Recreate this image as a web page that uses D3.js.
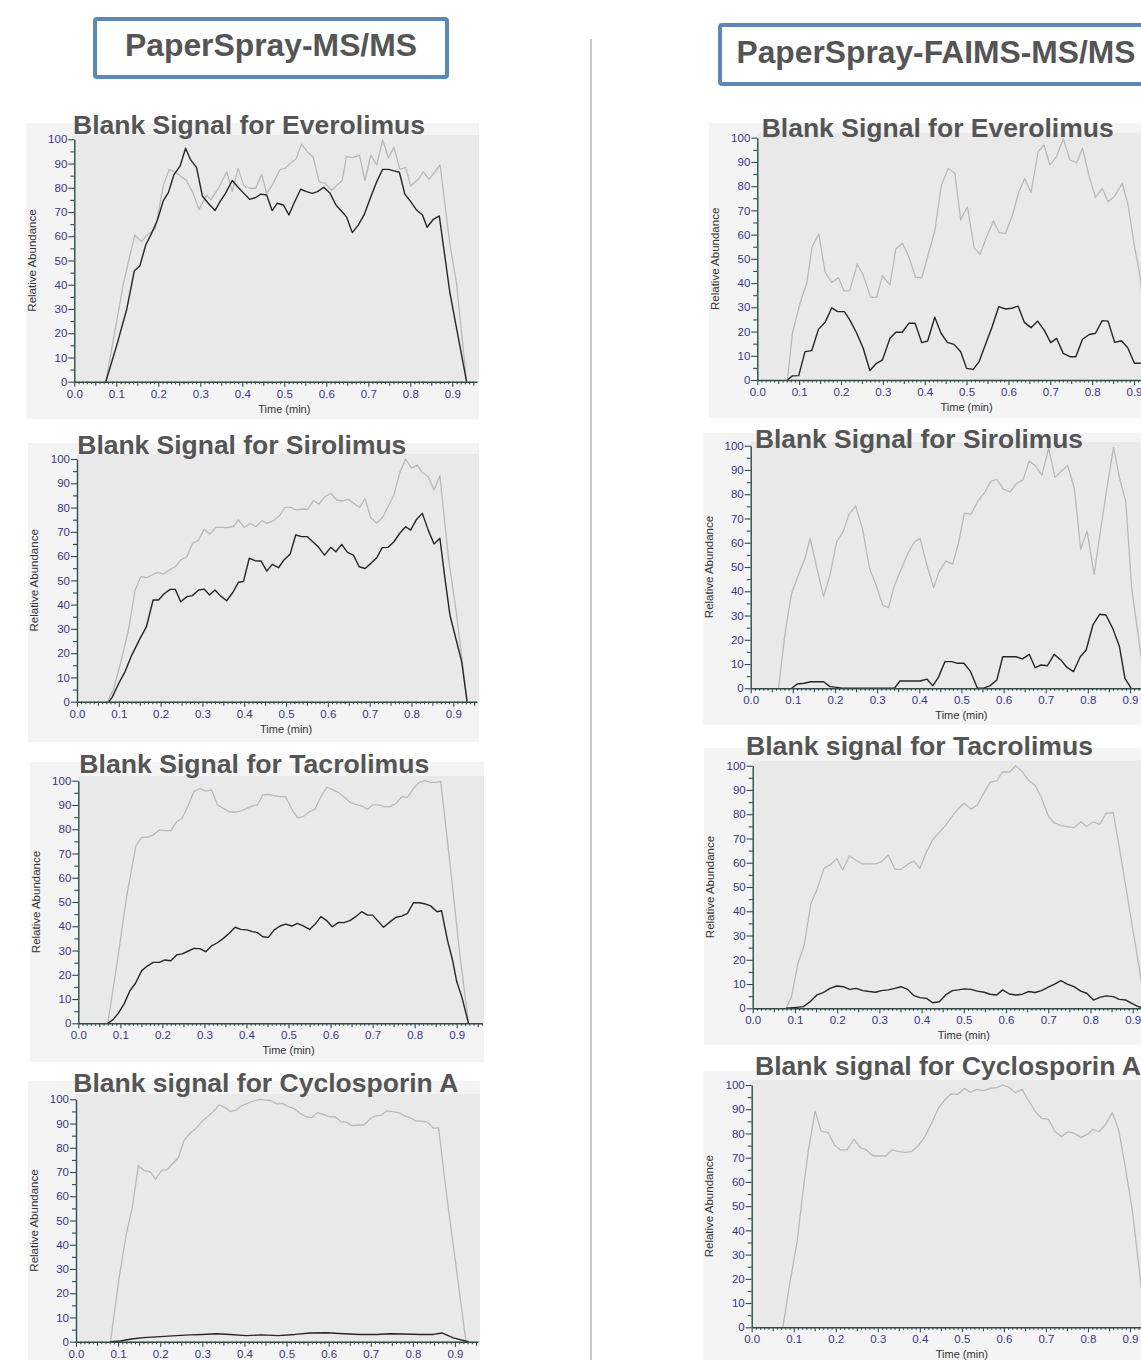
<!DOCTYPE html>
<html>
<head>
<meta charset="utf-8">
<script src="https://cdn.jsdelivr.net/npm/d3@7"></script>
<style>
  html, body { margin: 0; padding: 0; background: #ffffff; }
  svg { display: block; font-family: "Liberation Sans", Arial, sans-serif; }
</style>
</head>
<body>
<svg id="fig" width="1141" height="1360"></svg>
<script>
// ---- Chromatogram traces: [time (min), relative abundance (%)] ----
// PaperSpray-MS/MS
const everoMsGray = [[0.075,0],[0.117,40.6],[0.144,60.5],[0.160,57.8],[0.176,61],[0.193,63],[0.212,81],[0.226,87.6],[0.244,86],[0.267,83],[0.283,77.7],[0.297,71],[0.315,77],[0.325,75],[0.344,80],[0.363,86.6],[0.376,78.4],[0.390,88],[0.404,80.7],[0.418,79.8],[0.432,79.8],[0.446,85.6],[0.458,77.7],[0.471,81],[0.490,87.6],[0.502,88],[0.517,90.4],[0.528,92],[0.541,98],[0.554,95],[0.569,92.6],[0.583,82.5],[0.597,81.8],[0.613,79],[0.625,81],[0.638,83],[0.648,93],[0.663,92.4],[0.679,93.5],[0.692,83],[0.706,93.5],[0.720,89.4],[0.734,99.7],[0.748,92.4],[0.761,96.7],[0.775,87.6],[0.789,88.4],[0.801,80.7],[0.819,83.5],[0.831,86.6],[0.845,83.5],[0.871,89.4],[0.894,57],[0.910,40.6],[0.934,0]];
const everoMsBlack = [[0.075,0],[0.101,15],[0.125,30],[0.143,45.8],[0.156,47.7],[0.170,56.4],[0.184,61.2],[0.198,66.7],[0.212,74.7],[0.224,78],[0.237,85.3],[0.252,89],[0.265,96.3],[0.277,91.5],[0.291,88.4],[0.305,76.6],[0.319,73.6],[0.335,70.6],[0.347,74.3],[0.360,77.7],[0.376,83],[0.390,80.2],[0.402,78],[0.418,75.2],[0.432,76],[0.444,77.4],[0.458,77],[0.471,70.6],[0.483,73.6],[0.498,72.9],[0.511,68.8],[0.523,73.6],[0.539,79.4],[0.553,78.4],[0.567,77.7],[0.579,78.4],[0.594,80.2],[0.609,77.7],[0.623,72.9],[0.637,70.2],[0.648,68],[0.662,61.5],[0.676,64.6],[0.690,68.8],[0.706,76.3],[0.720,82.5],[0.734,87.6],[0.748,87.6],[0.761,87],[0.774,86.4],[0.787,77.4],[0.801,74.3],[0.815,70.8],[0.829,68.8],[0.840,63.7],[0.855,67],[0.869,68.4],[0.894,37],[0.934,0]];

const siroMsGray = [[0.073,0],[0.088,5.5],[0.104,15.8],[0.123,29.5],[0.139,46],[0.153,51.5],[0.167,51.1],[0.179,52.2],[0.193,53.3],[0.207,52.6],[0.221,54.3],[0.235,55.6],[0.248,58.4],[0.263,59.8],[0.276,65.2],[0.291,66.6],[0.304,71],[0.318,69.1],[0.332,71.8],[0.346,71.8],[0.360,71.7],[0.374,72.1],[0.386,74.9],[0.400,71.8],[0.414,73.5],[0.428,72.1],[0.442,74.6],[0.455,73.5],[0.470,74.6],[0.484,76.6],[0.498,80.1],[0.511,80.1],[0.525,79],[0.540,79.4],[0.552,79.3],[0.565,82.8],[0.579,81.5],[0.593,84.5],[0.607,85.9],[0.621,83.1],[0.635,82.7],[0.649,83.4],[0.662,81.7],[0.676,80.1],[0.689,83.8],[0.702,76],[0.717,73.5],[0.731,76],[0.744,80.4],[0.758,85.2],[0.772,94.4],[0.786,100],[0.800,96.2],[0.814,97.5],[0.826,94.4],[0.840,92.7],[0.854,87.2],[0.868,93.1],[0.888,59.8],[0.908,35.7],[0.933,0]];
const siroMsBlack = [[0.076,0],[0.084,1.8],[0.100,7.6],[0.115,12.4],[0.131,19.2],[0.151,26.1],[0.166,30.9],[0.182,41.9],[0.195,41.9],[0.209,44.6],[0.223,46.3],[0.235,46.3],[0.248,41.2],[0.263,43.3],[0.276,43.7],[0.291,46],[0.304,46.4],[0.317,44],[0.330,46],[0.344,43.5],[0.358,41.6],[0.373,45.1],[0.386,49.2],[0.398,49.5],[0.412,59.1],[0.426,58.1],[0.440,58],[0.454,53.8],[0.467,56.6],[0.482,55.2],[0.495,58.4],[0.510,60.9],[0.523,68.7],[0.537,68],[0.551,68],[0.564,65.9],[0.578,63.6],[0.592,60.4],[0.607,63.6],[0.619,61.8],[0.633,64.8],[0.647,61.5],[0.661,60.4],[0.675,55.6],[0.689,54.9],[0.703,57],[0.717,59.3],[0.730,63.5],[0.744,63.6],[0.758,65.9],[0.772,69.4],[0.786,72.1],[0.798,70.7],[0.812,75.1],[0.826,77.6],[0.840,70.7],[0.854,65],[0.868,67.3],[0.880,50.8],[0.892,35.7],[0.908,24.7],[0.920,16.5],[0.933,0]];

const tacroMsGray = [[0.070,0],[0.091,23.4],[0.115,52.2],[0.137,73.2],[0.151,76.6],[0.164,76.6],[0.178,77.6],[0.193,79.7],[0.206,79.4],[0.220,79.4],[0.234,83.1],[0.247,84.5],[0.262,90],[0.275,95.5],[0.289,96.8],[0.303,95.7],[0.317,96.2],[0.331,90],[0.345,88.6],[0.359,87.2],[0.373,87],[0.386,87.5],[0.401,88.6],[0.414,89.6],[0.426,90],[0.439,94.1],[0.452,94.4],[0.466,93.8],[0.480,93.4],[0.493,93.4],[0.508,88.2],[0.521,84.8],[0.535,85.2],[0.550,87.2],[0.563,88.3],[0.577,93.4],[0.591,97.3],[0.604,96.4],[0.619,95.1],[0.632,93.4],[0.646,91.1],[0.660,90.2],[0.674,89.6],[0.688,88.2],[0.700,90],[0.714,90],[0.728,89.3],[0.742,89.3],[0.756,90.7],[0.769,93.4],[0.783,93.1],[0.797,96.8],[0.811,99.3],[0.825,100],[0.838,99.3],[0.853,99.3],[0.862,99.6],[0.884,65.9],[0.908,27.5],[0.928,0]];
const tacroMsBlack = [[0.070,0],[0.082,1.4],[0.095,4.1],[0.109,8],[0.123,13.5],[0.136,16.5],[0.151,21.7],[0.164,23.6],[0.178,25.1],[0.193,25.1],[0.206,26.1],[0.220,25.8],[0.234,28.2],[0.247,28.6],[0.262,29.8],[0.275,30.9],[0.289,30.8],[0.303,29.5],[0.317,31.9],[0.331,33.2],[0.345,35],[0.359,37.1],[0.373,39.6],[0.386,38.7],[0.401,38.5],[0.414,37.8],[0.426,37.4],[0.439,35.7],[0.452,35.4],[0.466,38.5],[0.480,40.1],[0.493,40.9],[0.508,40.1],[0.521,41.2],[0.535,40.2],[0.550,38.7],[0.563,40.8],[0.577,44],[0.591,42.3],[0.604,39.8],[0.619,41.6],[0.632,41.5],[0.646,42.3],[0.660,44],[0.674,46],[0.688,44.6],[0.700,44.6],[0.714,41.9],[0.726,39.6],[0.742,41.9],[0.756,43.7],[0.769,44.2],[0.783,45.3],[0.797,49.7],[0.811,49.7],[0.825,49.2],[0.838,48.4],[0.853,46],[0.864,46.4],[0.878,34.3],[0.890,26.1],[0.900,17.2],[0.912,11],[0.928,0]];

const cycloMsGray = [[0.082,0],[0.101,24.8],[0.119,44],[0.134,55.7],[0.148,72.6],[0.162,70.6],[0.176,70.2],[0.189,67.1],[0.204,70.8],[0.215,70.8],[0.230,73.6],[0.243,75.9],[0.257,83.2],[0.271,86],[0.285,88],[0.299,90.8],[0.312,92.8],[0.326,94.9],[0.340,97.7],[0.354,96.6],[0.367,94.9],[0.380,95.6],[0.394,97.4],[0.407,98.3],[0.421,99.3],[0.436,100],[0.449,99.7],[0.462,99.5],[0.477,98.1],[0.490,98.3],[0.504,97],[0.518,96.2],[0.532,94.2],[0.546,92.8],[0.560,92.4],[0.573,94.5],[0.588,93.8],[0.601,92.8],[0.615,92.8],[0.629,90.8],[0.643,90.5],[0.656,89.1],[0.671,89.4],[0.684,89.4],[0.698,91.9],[0.710,93.1],[0.725,93.5],[0.738,95.2],[0.752,94.9],[0.766,94.5],[0.779,93.3],[0.793,92.4],[0.807,91],[0.821,91],[0.835,90.5],[0.849,88],[0.861,88.3],[0.880,60.5],[0.900,34.4],[0.926,0]];
const cycloMsBlack = [[0.082,0],[0.105,0.3],[0.132,1.1],[0.160,1.7],[0.200,2.1],[0.239,2.5],[0.271,2.8],[0.300,3],[0.334,3.3],[0.366,3],[0.405,2.5],[0.440,2.8],[0.480,2.5],[0.520,3],[0.556,3.6],[0.595,3.7],[0.635,3.3],[0.675,3],[0.714,3],[0.746,3.3],[0.778,3.2],[0.817,3],[0.849,3],[0.869,3.6],[0.896,1.6],[0.932,0]];

// PaperSpray-FAIMS-MS/MS
const everoFaimsGray = [[0.072,0],[0.084,19.3],[0.102,31.6],[0.118,39.9],[0.131,55],[0.147,60.2],[0.162,44.4],[0.178,40.3],[0.194,42.2],[0.207,36.7],[0.221,36.9],[0.239,47.9],[0.253,43.3],[0.271,34.1],[0.285,34.1],[0.299,43.1],[0.317,39.2],[0.331,54.1],[0.347,56.4],[0.362,50.9],[0.378,42.4],[0.393,42.2],[0.408,51.6],[0.424,61.6],[0.440,80.5],[0.456,87.3],[0.472,85.3],[0.486,66],[0.502,71.5],[0.518,54.6],[0.532,51.9],[0.548,59.1],[0.564,65.6],[0.578,60.8],[0.593,60.5],[0.609,67.7],[0.625,77.7],[0.639,83.2],[0.654,77.4],[0.671,94.2],[0.685,97],[0.699,88.7],[0.715,92.2],[0.731,99.5],[0.747,90.8],[0.763,89.7],[0.777,95.6],[0.793,83.9],[0.808,75.4],[0.824,79.1],[0.838,73.6],[0.854,75.9],[0.872,81.2],[0.886,72.2],[0.900,56.4],[0.916,41.3],[0.932,0]];
const everoFaimsBlack = [[0.072,0],[0.084,1.7],[0.099,1.8],[0.114,11.7],[0.130,12.1],[0.146,20.9],[0.162,23.8],[0.178,29.8],[0.192,28.2],[0.208,28.2],[0.221,24.8],[0.237,19.5],[0.253,13.1],[0.269,3.9],[0.285,6.9],[0.299,8.3],[0.317,17.2],[0.331,19.7],[0.346,19.7],[0.362,23.4],[0.377,23.4],[0.393,15.4],[0.407,16.1],[0.424,25.9],[0.439,19.3],[0.454,15.5],[0.470,14.7],[0.486,11.7],[0.500,4.8],[0.516,4.4],[0.530,7.6],[0.546,15.1],[0.561,22],[0.577,30.3],[0.593,29.3],[0.608,29.6],[0.623,30.5],[0.638,23.8],[0.654,21.6],[0.670,24.3],[0.686,20.4],[0.701,15.4],[0.715,17.2],[0.731,11],[0.747,9.6],[0.761,9.6],[0.777,16.8],[0.793,18.8],[0.808,19.3],[0.824,24.5],[0.838,24.3],[0.854,15.5],[0.870,16.2],[0.885,13.3],[0.901,6.9],[0.916,6.9]];

const siroFaimsGray = [[0.066,0],[0.082,23.4],[0.097,39.1],[0.113,46.7],[0.129,53.6],[0.141,61.8],[0.157,49.5],[0.173,37.8],[0.188,46.7],[0.204,60.4],[0.220,64.8],[0.233,71.7],[0.249,75.1],[0.265,65.9],[0.282,49.5],[0.298,42.3],[0.313,34.3],[0.327,33.2],[0.341,42.3],[0.358,49.5],[0.373,55.6],[0.388,60.2],[0.402,61.8],[0.418,50.8],[0.434,41.5],[0.447,48.1],[0.463,52.5],[0.479,51.1],[0.493,59.8],[0.507,72.1],[0.523,71.8],[0.539,77.2],[0.554,80.4],[0.570,85.4],[0.584,86.1],[0.600,82],[0.616,81],[0.631,84.5],[0.646,85.9],[0.661,93.7],[0.676,91.6],[0.691,87.9],[0.707,98.9],[0.722,87],[0.738,89.7],[0.752,91.8],[0.768,82.4],[0.783,57.3],[0.798,64.8],[0.815,47],[0.829,63.9],[0.845,82.4],[0.861,99.3],[0.875,86.8],[0.890,76.9],[0.904,41.2],[0.926,13.7],[0.935,0]];
const siroFaimsBlack = [[0.097,0],[0.111,1.8],[0.127,2.1],[0.142,2.7],[0.157,2.7],[0.173,2.7],[0.188,0.7],[0.204,0.4],[0.216,0],[0.341,0],[0.354,3],[0.370,3],[0.388,3],[0.402,3],[0.418,3.8],[0.432,1],[0.445,4.4],[0.461,11],[0.477,11],[0.491,10.3],[0.506,10.3],[0.521,7.1],[0.538,0],[0.552,0],[0.568,1.1],[0.584,3.4],[0.598,13],[0.614,13],[0.629,13],[0.645,12.1],[0.661,14],[0.675,8.5],[0.689,9.6],[0.704,9.3],[0.720,14],[0.736,11.7],[0.750,8.7],[0.766,6.9],[0.782,13],[0.796,15.8],[0.812,26.1],[0.828,30.5],[0.843,30.2],[0.859,24.7],[0.875,17.2],[0.888,4.1],[0.903,0]];

const tacroFaimsGray = [[0.079,0],[0.092,4.8],[0.107,18.5],[0.122,26.1],[0.138,43.3],[0.152,48.8],[0.169,57.7],[0.185,59.3],[0.199,61.8],[0.213,57],[0.229,62.8],[0.244,61.1],[0.260,59.5],[0.276,59.5],[0.291,59.5],[0.305,60.4],[0.321,63.2],[0.337,57.3],[0.351,57.3],[0.367,59.3],[0.382,60.7],[0.396,57.7],[0.410,63.9],[0.426,69.4],[0.442,72.5],[0.457,75.5],[0.473,79.3],[0.487,82.4],[0.501,84.5],[0.517,82.1],[0.532,83.8],[0.548,88.9],[0.562,93.1],[0.578,93.7],[0.592,97.5],[0.608,97.3],[0.623,99.9],[0.639,97.5],[0.653,94.1],[0.669,91.8],[0.684,86.8],[0.700,79.3],[0.714,76.5],[0.730,75.3],[0.745,74.9],[0.761,74.5],[0.777,76.9],[0.791,74.9],[0.807,76.9],[0.822,75.8],[0.837,80.4],[0.854,80.6],[0.872,62.5],[0.890,43.3],[0.920,11.7],[0.930,0]];
const tacroFaimsBlack = [[0.079,0],[0.104,0.4],[0.120,0.7],[0.136,2.7],[0.152,5.5],[0.167,6.5],[0.183,8.2],[0.199,9.2],[0.215,8.9],[0.229,7.8],[0.245,8.2],[0.261,7.3],[0.276,6.9],[0.291,6.6],[0.305,7.3],[0.321,7.6],[0.337,8.2],[0.351,8.9],[0.367,7.8],[0.382,5.2],[0.396,4.4],[0.412,4.1],[0.426,2.3],[0.442,2.7],[0.457,5.5],[0.473,7.3],[0.487,7.6],[0.501,8],[0.517,7.8],[0.532,7.1],[0.548,6.6],[0.562,5.8],[0.578,5.5],[0.592,7.6],[0.608,5.9],[0.623,5.5],[0.639,5.8],[0.653,6.9],[0.669,6.5],[0.684,7.3],[0.700,8.7],[0.714,9.9],[0.730,11.4],[0.745,10],[0.761,8.9],[0.777,7.1],[0.791,6.2],[0.807,3.4],[0.822,4.5],[0.837,5.1],[0.854,4.8],[0.868,3.7],[0.884,3.4],[0.900,1.8],[0.913,0.7],[0.920,0.4]];

const cycloFaimsGray = [[0.074,0],[0.090,17.5],[0.108,35.4],[0.122,56],[0.135,73.2],[0.151,89.3],[0.165,81],[0.182,80.3],[0.197,75.2],[0.211,73.2],[0.227,73.2],[0.243,77.6],[0.259,74.1],[0.273,73.2],[0.289,70.7],[0.305,70.7],[0.319,70.7],[0.334,73.2],[0.350,72.5],[0.365,72.2],[0.380,72.5],[0.396,74.8],[0.412,78.7],[0.428,84.2],[0.444,90.4],[0.459,93.8],[0.474,96.3],[0.490,96.1],[0.506,98.6],[0.520,97],[0.536,98.2],[0.552,97.7],[0.568,98.6],[0.584,98.9],[0.597,100],[0.613,99],[0.627,96.8],[0.643,98.2],[0.659,93.4],[0.675,89],[0.690,86.2],[0.706,85.8],[0.722,80.7],[0.737,78.7],[0.752,80.7],[0.767,80.1],[0.783,78.4],[0.799,79.6],[0.812,81.7],[0.826,80.7],[0.842,83.8],[0.858,88.6],[0.873,81.4],[0.888,67],[0.906,47.7],[0.930,12],[0.940,0]];
const cycloFaimsBlack = [];

// ---- Axis ticks ----
const yMajorTicks = [0, 10, 20, 30, 40, 50, 60, 70, 80, 90, 100];
const xMajorTicks = [0, 0.1, 0.2, 0.3, 0.4, 0.5, 0.6, 0.7, 0.8, 0.9];

// ---- Column headers ----
const headers = [
  { text: "PaperSpray-MS/MS", box: [95, 19, 352, 58], cx: 271, base: 56, len: 292 },
  { text: "PaperSpray-FAIMS-MS/MS", box: [720, 25, 460, 59], cx: 936, base: 63, len: 399 }
];

// ---- Panel layout ----
const panels = [
  { title: "Blank Signal for Everolimus", gray: everoMsGray, black: everoMsBlack,
    bg: [26, 123, 479, 419], x0: 74.3, x09: 452.3, y100: 139.3, y0: 381.7, top: 135, tx: 73, ty: 134, tw: 352 },
  { title: "Blank Signal for Sirolimus", gray: siroMsGray, black: siroMsBlack,
    bg: [28, 443, 479, 742], x0: 77, x09: 453.3, y100: 459, y0: 701.7, top: 454, tx: 77.3, ty: 454, tw: 329 },
  { title: "Blank Signal for Tacrolimus", gray: tacroMsGray, black: tacroMsBlack,
    bg: [30, 762, 484, 1062], x0: 78.3, x09: 456.7, y100: 780.7, y0: 1023.3, top: 776, tx: 79.3, ty: 772.7, tw: 350 },
  { title: "Blank signal for Cyclosporin A", gray: cycloMsGray, black: cycloMsBlack,
    bg: [28, 1081, 480, 1380], x0: 76, x09: 455, y100: 1099.3, y0: 1341.7, top: 1094, tx: 73.3, ty: 1091.7, tw: 385 },
  { title: "Blank Signal for Everolimus", gray: everoFaimsGray, black: everoFaimsBlack,
    bg: [709, 123, 1160, 418], x0: 757.3, x09: 1134, y100: 137.7, y0: 380, top: 133, tx: 761.7, ty: 136.7, tw: 352 },
  { title: "Blank Signal for Sirolimus", gray: siroFaimsGray, black: siroFaimsBlack,
    bg: [703, 433, 1160, 725], x0: 750.7, x09: 1130, y100: 445.7, y0: 688.3, top: 442, tx: 755, ty: 448.3, tw: 328 },
  { title: "Blank signal for Tacrolimus", gray: tacroFaimsGray, black: tacroFaimsBlack,
    bg: [704, 748, 1160, 1045], x0: 752.7, x09: 1132.7, y100: 765.7, y0: 1008.3, top: 760.7, tx: 746, ty: 755, tw: 347 },
  { title: "Blank signal for Cyclosporin A", gray: cycloFaimsGray, black: cycloFaimsBlack,
    bg: [703, 1071, 1160, 1380], x0: 751.7, x09: 1130, y100: 1085, y0: 1327.3, top: 1080, tx: 755, ty: 1075, tw: 386 }
];

const AXIS = "#2f4b4b";
const TICKTXT = "#36368a";

const svg = d3.select("#fig");

// Divider between the two columns
svg.append("line")
  .attr("x1", 591).attr("x2", 591).attr("y1", 39).attr("y2", 1360)
  .attr("stroke", "#c8c8c8").attr("stroke-width", 2);

// Column header boxes
headers.forEach(h => {
  svg.append("rect")
    .attr("x", h.box[0]).attr("y", h.box[1])
    .attr("width", h.box[2]).attr("height", h.box[3])
    .attr("rx", 2)
    .attr("fill", "#ffffff").attr("stroke", "#5b88b5").attr("stroke-width", 4);
  svg.append("text")
    .attr("x", h.cx).attr("y", h.base)
    .attr("text-anchor", "middle")
    .attr("font-size", 31).attr("font-weight", "bold")
    .attr("fill", "#555555")
    .attr("textLength", h.len).attr("lengthAdjust", "spacingAndGlyphs")
    .text(h.text);
});

panels.forEach(p => {
  const g = svg.append("g");
  const [bx0, by0, bx1, by1] = p.bg;

  // Outer panel and plotting area
  g.append("rect").attr("x", bx0).attr("y", by0)
    .attr("width", bx1 - bx0).attr("height", by1 - by0).attr("fill", "#f4f4f4");
  g.append("rect").attr("x", p.x0).attr("y", p.top)
    .attr("width", bx1 - p.x0).attr("height", p.y0 - p.top).attr("fill", "#e9e9e9");

  const xMax = 0.9 * (bx1 - 2 - p.x0) / (p.x09 - p.x0);
  const x = d3.scaleLinear().domain([0, xMax]).range([p.x0, bx1 - 2]);
  const y = d3.scaleLinear().domain([0, 100]).range([p.y0, p.y100]);

  const line = d3.line().x(d => x(d[0])).y(d => y(d[1]));

  g.append("path").datum(p.gray).attr("d", line)
    .attr("fill", "none").attr("stroke", "#b9b9b9").attr("stroke-width", 1.3)
    .attr("stroke-linejoin", "round");
  if (p.black.length) {
    g.append("path").datum(p.black).attr("d", line)
      .attr("fill", "none").attr("stroke", "#262626").attr("stroke-width", 1.4)
      .attr("stroke-linejoin", "round");
  }

  // Minor ticks (x: every 0.01, 0.05 medium; y: every 5)
  const xMinor = d3.range(0, xMax + 1e-9, 0.01).map(v => +v.toFixed(2))
    .filter(v => Math.round(v * 100) % 5 !== 0);
  const xMid = d3.range(0.05, xMax, 0.1).map(v => +v.toFixed(2));
  const yMinor = d3.range(5, 100, 10);

  const styleAxis = sel => {
    sel.selectAll(".domain").attr("stroke", AXIS).attr("stroke-width", 1.4);
    sel.selectAll(".tick line").attr("stroke", AXIS).attr("stroke-width", 1.1);
  };

  g.append("g").attr("transform", `translate(0,${p.y0})`)
    .call(d3.axisBottom(x).tickValues(xMinor).tickSize(2.5).tickFormat(""))
    .call(s => s.select(".domain").remove())
    .call(styleAxis);
  g.append("g").attr("transform", `translate(0,${p.y0})`)
    .call(d3.axisBottom(x).tickValues(xMid).tickSize(4).tickFormat(""))
    .call(s => s.select(".domain").remove())
    .call(styleAxis);
  g.append("g").attr("transform", `translate(${p.x0},0)`)
    .call(d3.axisLeft(y).tickValues(yMinor).tickSize(4).tickFormat(""))
    .call(s => s.select(".domain").remove())
    .call(styleAxis);

  const xAxis = g.append("g").attr("transform", `translate(0,${p.y0})`)
    .call(d3.axisBottom(x).tickValues(xMajorTicks).tickSize(5).tickSizeOuter(0)
      .tickPadding(3).tickFormat(d3.format(".1f")))
    .call(styleAxis);
  xAxis.selectAll("text").attr("fill", TICKTXT).attr("font-size", 11.5)
    .attr("font-family", "Liberation Sans, Arial, sans-serif");

  const yAxis = g.append("g").attr("transform", `translate(${p.x0},0)`)
    .call(d3.axisLeft(y).tickValues(yMajorTicks).tickSize(6).tickSizeOuter(0)
      .tickPadding(1).tickFormat(d3.format("d")))
    .call(styleAxis);
  yAxis.selectAll("text").attr("fill", TICKTXT).attr("font-size", 11.5)
    .attr("font-family", "Liberation Sans, Arial, sans-serif");

  // Axis titles
  g.append("text")
    .attr("x", x(0.5)).attr("y", p.y0 + 31)
    .attr("text-anchor", "middle").attr("font-size", 11).attr("fill", "#333333")
    .text("Time (min)");
  g.append("text")
    .attr("transform", `translate(${bx0 + 10},${(p.y0 + p.y100) / 2}) rotate(-90)`)
    .attr("text-anchor", "middle").attr("font-size", 11.5).attr("fill", "#333333")
    .text("Relative Abundance");

  // Panel title
  g.append("text")
    .attr("x", p.tx).attr("y", p.ty)
    .attr("font-size", 25).attr("font-weight", "bold").attr("fill", "#555555")
    .attr("textLength", p.tw).attr("lengthAdjust", "spacingAndGlyphs")
    .text(p.title);
});
</script>
</body>
</html>
